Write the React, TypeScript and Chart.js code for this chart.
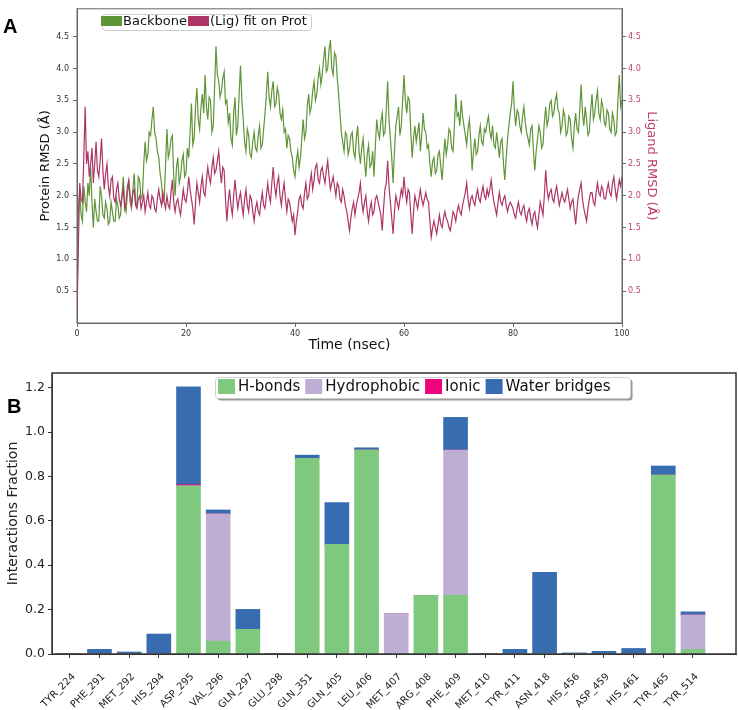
import React, { useEffect, useRef } from 'react';
import { Chart, registerables } from 'chart.js';
Chart.register(...registerables);

const FONT = "'DejaVu Sans', sans-serif";

// ---------- Panel A data (time step 0.25 ns, 0..100 ns) ----------
const TIME_STEP_NS = 0.25;
const backboneRmsd = [
  0.2, 1.8, 2.1, 1.7, 1.6, 2.15, 1.9, 1.75, 2.2, 2.0, 2.45, 1.9, 1.5, 1.95, 1.75, 1.6, 1.6, 2.15, 2.0, 1.7,
  1.65, 1.9, 1.8, 1.55, 1.6, 1.9, 1.75, 1.6, 1.6, 1.95, 1.85, 1.65, 1.7, 2.0, 2.3, 1.85, 1.75, 2.05, 2.2, 1.9,
  1.8, 2.1, 2.35, 1.9, 1.85, 2.3, 2.25, 1.95, 2.0, 2.5, 2.85, 2.55, 2.65, 3.0, 2.95, 3.2, 3.4, 3.0, 2.9, 2.7,
  2.6, 2.35, 2.2, 1.9, 1.95, 2.5, 3.05, 2.6, 2.7, 2.9, 2.95, 2.3, 2.0, 2.45, 2.6, 2.2, 2.3, 2.55, 2.65, 2.3,
  2.35, 2.75, 2.6, 3.0, 3.45, 2.8, 2.9, 3.4, 3.7, 3.2, 3.05, 3.4, 3.6, 3.3, 3.9, 3.4, 3.2, 3.55, 3.5, 3.0,
  3.1, 3.7, 4.35, 3.9, 3.8, 3.55, 3.65, 3.85, 3.95, 3.45, 3.5, 3.15, 3.3, 2.9, 2.8, 3.3, 3.55, 2.95, 3.1, 3.6,
  4.05, 3.5, 3.2, 2.85, 2.7, 3.05, 2.95, 2.65, 2.6, 2.85, 3.0, 2.75, 2.7, 2.95, 3.1, 2.75, 2.8, 3.05, 3.3, 3.6,
  3.95, 3.55, 3.4, 3.65, 3.8, 3.4, 3.45, 3.7, 3.6, 3.3, 3.2, 3.35, 3.0, 3.05, 2.75, 2.95, 2.9, 2.7, 2.6, 2.4,
  2.3, 2.55, 2.7, 2.45, 2.6, 2.9, 3.2, 2.9, 3.0, 3.4, 3.6, 3.3, 3.4, 3.65, 3.8, 3.5, 3.6, 3.85, 4.0, 3.75,
  3.9, 4.15, 4.35, 3.95, 4.0, 4.3, 4.45, 4.0, 3.9, 4.25, 4.2, 3.85, 3.6, 3.3, 3.0, 2.85, 2.7, 3.0, 2.95, 2.65,
  2.75, 2.95, 3.0, 2.7, 2.6, 2.9, 3.1, 2.7, 2.5, 2.75, 2.9, 2.55, 2.3, 2.65, 2.8, 2.45, 2.5, 2.7, 2.3, 2.8,
  3.2, 3.0, 2.9, 3.15, 3.3, 2.95, 3.0, 3.35, 3.8, 3.2, 2.9, 2.6, 2.2, 2.7, 3.1, 3.25, 3.4, 2.95, 3.1, 3.5,
  3.9, 3.5, 3.3, 3.55, 3.5, 3.0, 2.6, 2.9, 3.1, 2.85, 3.0, 3.15, 2.7, 2.95, 3.3, 3.05, 3.0, 2.75, 2.8, 2.5,
  2.3, 2.55, 2.6, 2.35, 2.4, 2.65, 2.7, 2.45, 2.25, 2.6, 2.9, 2.65, 2.8, 3.05, 3.0, 2.75, 2.7, 3.1, 3.6, 3.25,
  3.3, 3.1, 3.5, 3.25, 3.1, 2.95, 2.8, 3.05, 3.2, 2.85, 2.4, 2.7, 2.9, 2.65, 2.7, 2.95, 3.1, 2.85, 2.8, 3.05,
  3.0, 3.15, 3.25, 3.0, 2.9, 3.1, 2.8, 2.75, 3.0, 2.8, 2.6, 2.85, 2.9, 2.5, 2.25, 2.6, 2.9, 3.1, 3.3, 3.45,
  3.8, 3.35, 3.1, 3.35, 3.3, 3.1, 3.0, 3.25, 3.4, 3.15, 3.0, 2.9, 2.8, 3.05, 3.1, 2.7, 2.4, 2.7, 2.9, 3.1,
  3.0, 2.75, 2.8, 3.15, 3.4, 3.1, 3.2, 3.45, 3.5, 3.25, 3.3, 3.5, 3.6, 3.35, 3.3, 3.0, 3.1, 3.35, 3.25, 2.95,
  3.0, 3.25, 3.2, 2.9, 2.75, 3.1, 3.3, 3.05, 3.0, 3.35, 3.75, 3.3, 3.1, 3.4, 3.2, 2.95, 3.0, 3.35, 3.6, 3.2,
  3.3, 3.5, 3.65, 3.3, 3.2, 3.5, 3.4, 3.15, 3.1, 3.35, 3.3, 3.05, 3.0, 3.3, 3.2, 2.95, 3.0, 3.5, 3.9, 3.4,
  3.5,
];
const ligandRmsd = [
  0.1, 1.2, 2.2, 1.95, 1.9, 2.6, 3.4, 2.5, 2.7, 2.3, 2.5, 2.75, 2.2, 2.5, 2.85, 2.4, 2.3, 2.55, 2.9, 2.4,
  2.1, 2.35, 2.5, 2.15, 2.0, 2.25, 2.3, 1.95, 1.9, 2.1, 2.2, 1.95, 1.85, 2.0, 2.1, 1.8, 1.9, 2.15, 2.25, 2.0,
  1.85, 2.05, 2.1, 1.85, 1.8, 1.95, 2.0, 1.8, 1.9, 2.0, 1.75, 1.9, 2.05, 1.85, 1.8, 2.0, 1.95, 1.8, 1.75, 1.95,
  2.1, 1.95, 1.85, 2.05, 1.9, 1.8, 2.0, 1.85, 1.8, 2.05, 2.25, 1.9, 1.75, 1.9, 1.95, 1.8, 1.7, 1.9, 2.1, 1.95,
  1.9, 2.05, 2.3, 2.1, 1.95, 1.8, 1.55, 1.9, 2.2, 2.05, 1.9, 2.15, 2.3, 2.05, 2.0, 2.25, 2.45, 2.3, 2.2, 2.45,
  2.6, 2.35, 2.4, 2.55, 2.7, 2.4, 2.2, 2.45, 2.4, 1.95, 1.6, 1.9, 2.1, 1.85, 1.7, 2.0, 2.25, 2.0, 1.8, 1.95,
  2.05, 1.85, 1.7, 1.95, 2.1, 1.85, 1.75, 2.0, 1.95, 1.75, 1.6, 1.8, 1.9, 1.75, 1.7, 1.9, 2.05, 1.85, 1.8, 2.0,
  2.2, 2.0, 1.9, 2.2, 2.45, 2.15, 2.0, 2.2, 2.3, 2.0, 1.85, 2.05, 2.2, 1.95, 1.75, 1.95, 1.9, 1.75, 1.6, 1.7,
  1.38, 1.6, 1.75, 1.95, 2.0, 1.85, 1.8, 2.05, 2.2, 1.95, 2.0, 2.2, 2.35, 2.1, 2.25, 2.45, 2.5, 2.25, 2.2, 2.4,
  2.45, 2.3, 2.2, 2.4, 2.55, 2.3, 2.1, 2.2, 2.3, 2.15, 2.0, 2.2, 2.15, 1.95, 1.9, 2.1, 2.0, 1.85, 1.75, 1.6,
  1.45, 1.65, 1.8, 1.9, 1.7, 1.85, 1.95, 2.05, 2.2, 1.9, 1.75, 1.9, 2.0, 1.75, 1.6, 1.8, 1.9, 1.7, 1.75, 1.95,
  2.0, 1.9, 1.8, 1.7, 1.45, 1.8, 2.1, 2.2, 2.55, 2.15, 1.9, 1.65, 1.4, 1.75, 2.0, 1.9, 1.8, 1.95, 2.1, 2.0,
  2.3, 2.05, 1.9, 2.1, 2.05, 1.7, 1.4, 1.75, 2.0, 1.9, 1.8, 1.95, 2.1, 1.95, 1.85, 1.95, 2.05, 1.95, 1.9, 1.6,
  1.35, 1.5, 1.6, 1.5, 1.4, 1.55, 1.7, 1.55, 1.5, 1.65, 1.75, 1.65, 1.6, 1.5, 1.45, 1.6, 1.75, 1.7, 1.6, 1.75,
  1.85, 1.75, 1.7, 1.85, 1.95, 2.05, 2.2, 1.95, 1.8, 1.95, 2.0, 1.9, 1.85, 2.0, 2.1, 1.95, 1.9, 2.05, 2.15, 2.0,
  1.95, 2.1, 2.0, 2.1, 2.25, 2.05, 1.9, 1.8, 1.7, 1.9, 2.05, 1.9, 1.85, 1.95, 2.0, 1.85, 1.75, 1.85, 1.9, 1.85,
  1.8, 1.7, 1.65, 1.8, 1.9, 1.75, 1.7, 1.8, 1.85, 1.7, 1.6, 1.75, 1.8, 1.65, 1.55, 1.7, 1.75, 1.6, 1.5, 1.7,
  1.9, 1.8, 1.7, 2.0, 2.4, 2.1, 1.95, 2.05, 2.1, 1.95, 1.9, 2.05, 2.15, 2.0, 1.85, 1.95, 2.05, 1.95, 1.9, 2.0,
  2.1, 1.95, 1.8, 1.9, 1.95, 1.75, 1.55, 1.8, 2.0, 2.1, 2.2, 1.95, 1.8, 1.7, 1.6, 1.8, 1.95, 2.05, 2.05, 1.9,
  1.85, 2.05, 2.2, 2.05, 2.0, 2.15, 2.1, 1.95, 1.95, 2.1, 2.2, 2.05, 2.0, 2.2, 2.3, 2.1, 1.95, 2.1, 2.25, 2.15,
  2.3,
];
const timeTicks = [0, 20, 40, 60, 80, 100];
const rmsdTicks = [0.5, 1.0, 1.5, 2.0, 2.5, 3.0, 3.5, 4.0, 4.5];

// ---------- Panel B data ----------
const residues = [
  'TYR_224', 'PHE_291', 'MET_292', 'HIS_294', 'ASP_295', 'VAL_296', 'GLN_297', 'GLU_298',
  'GLN_351', 'GLN_405', 'LEU_406', 'MET_407', 'ARG_408', 'PHE_409', 'MET_410', 'TYR_411',
  'ASN_418', 'HIS_456', 'ASP_459', 'HIS_461', 'TYR_465', 'TYR_514',
];
const hBonds = [0, 0, 0, 0, 0.758, 0.058, 0.111, 0, 0.881, 0.494, 0.919, 0, 0.264, 0.264, 0, 0, 0.003, 0, 0, 0, 0.806, 0.021];
const hydrophobic = [0, 0, 0, 0, 0, 0.573, 0, 0, 0, 0, 0, 0.18, 0, 0.655, 0, 0, 0, 0, 0, 0, 0, 0.155];
const ionic = [0, 0, 0, 0, 0.005, 0, 0, 0, 0, 0, 0, 0, 0, 0, 0, 0, 0, 0, 0, 0, 0, 0];
const waterBridges = [0.003, 0.021, 0.009, 0.09, 0.441, 0.018, 0.09, 0.003, 0.015, 0.188, 0.01, 0, 0, 0.147, 0, 0.021, 0.365, 0.005, 0.012, 0.025, 0.041, 0.014];
const fractionTicks = [0, 0.2, 0.4, 0.6, 0.8, 1.0, 1.2];

const GREEN = '#5f9437';
const PINK = '#ad3566';
const PINK_TXT = '#c0406f';

function roundRect(ctx: CanvasRenderingContext2D, x: number, y: number, w: number, h: number, r: number) {
  ctx.beginPath();
  ctx.moveTo(x + r, y);
  ctx.lineTo(x + w - r, y);
  ctx.arcTo(x + w, y, x + w, y + r, r);
  ctx.lineTo(x + w, y + h - r);
  ctx.arcTo(x + w, y + h, x + w - r, y + h, r);
  ctx.lineTo(x + r, y + h);
  ctx.arcTo(x, y + h, x, y + h - r, r);
  ctx.lineTo(x, y + r);
  ctx.arcTo(x, y, x + r, y, r);
  ctx.closePath();
}

function framePlugin(color: string, width: number) {
  return {
    id: 'frame',
    afterDatasetsDraw(chart: any) {
      const { ctx, chartArea: a } = chart;
      ctx.save();
      ctx.strokeStyle = color;
      ctx.lineWidth = width;
      ctx.strokeRect(a.left, a.top, a.right - a.left, a.bottom - a.top);
      ctx.restore();
    },
  };
}

function panelLabel(text: string, x: number, y: number) {
  return {
    id: 'panelLabel' + text,
    afterDraw(chart: any) {
      const ctx = chart.ctx;
      ctx.save();
      ctx.font = "bold 20px 'Liberation Sans', Arial, sans-serif";
      ctx.fillStyle = '#000';
      ctx.textBaseline = 'alphabetic';
      ctx.textAlign = 'left';
      ctx.fillText(text, x, y);
      ctx.restore();
    },
  };
}

const legendA = {
  id: 'legendA',
  afterDraw(chart: any) {
    const ctx = chart.ctx;
    ctx.save();
    ctx.font = `13px ${FONT}`;
    roundRect(ctx, 102.5, 14.5, 209, 16, 3);
    ctx.fillStyle = 'rgba(255,255,255,0.9)';
    ctx.fill();
    ctx.strokeStyle = '#cccccc';
    ctx.lineWidth = 1;
    ctx.stroke();
    const items = [
      { label: 'Backbone', color: GREEN },
      { label: '(Lig) fit on Prot', color: PINK },
    ];
    let x = 101;
    ctx.textBaseline = 'middle';
    for (const it of items) {
      ctx.fillStyle = it.color;
      ctx.fillRect(x, 16, 21, 10);
      x += 22;
      ctx.fillStyle = '#111';
      ctx.fillText(it.label, x, 22);
      x += ctx.measureText(it.label).width + 1;
    }
    ctx.restore();
  },
};

const legendB = {
  id: 'legendB',
  afterDraw(chart: any) {
    const ctx = chart.ctx;
    ctx.save();
    ctx.font = `15px ${FONT}`;
    const bx = 215.5, by = 17.5, bw = 415, bh = 21;
    roundRect(ctx, bx + 2, by + 2, bw, bh, 3);
    ctx.fillStyle = '#9a9a9a';
    ctx.fill();
    roundRect(ctx, bx, by, bw, bh, 3);
    ctx.fillStyle = '#ffffff';
    ctx.fill();
    ctx.strokeStyle = '#cfcfcf';
    ctx.lineWidth = 1;
    ctx.stroke();
    const items = [
      { label: 'H-bonds', color: '#7fc97f' },
      { label: 'Hydrophobic', color: '#beaed4' },
      { label: 'Ionic', color: '#f0027f' },
      { label: 'Water bridges', color: '#386cb0' },
    ];
    let x = 218;
    ctx.textBaseline = 'middle';
    for (const it of items) {
      ctx.fillStyle = it.color;
      ctx.fillRect(x, 19, 17, 15);
      x += 20;
      ctx.fillStyle = '#111';
      ctx.fillText(it.label, x, 27);
      x += ctx.measureText(it.label).width + 5;
    }
    ctx.restore();
  },
};

function RmsdChart() {
  const ref = useRef<HTMLCanvasElement | null>(null);
  useEffect(() => {
    if (!ref.current) return;
    const chart = new Chart(ref.current, {
      type: 'line',
      data: {
        datasets: [
          {
            label: 'Backbone',
            data: backboneRmsd.map((v, i) => ({ x: i * TIME_STEP_NS, y: v })),
            borderColor: GREEN,
            borderWidth: 1.2,
            pointRadius: 0,
            yAxisID: 'y',
            order: 2,
          },
          {
            label: '(Lig) fit on Prot',
            data: ligandRmsd.map((v, i) => ({ x: i * TIME_STEP_NS, y: v })),
            borderColor: PINK,
            borderWidth: 1.2,
            pointRadius: 0,
            yAxisID: 'y1',
            order: 1,
          },
        ],
      },
      options: {
        animation: false,
        responsive: false,
        layout: { padding: { top: 2, left: 32, right: 76, bottom: 0 } },
        plugins: { legend: { display: false }, tooltip: { enabled: false } },
        scales: {
          x: {
            type: 'linear',
            min: 0,
            max: 100,
            afterBuildTicks: (s: any) => { s.ticks = timeTicks.map((v) => ({ value: v })); },
            afterFit: (s: any) => { s.height = 37; },
            ticks: { font: { size: 8, family: FONT }, color: '#333', padding: 2, maxRotation: 0, callback: (v: any) => String(v) },
            grid: { drawOnChartArea: false, tickLength: 4, color: '#666' },
            border: { color: '#666' },
            title: { display: true, text: 'Time (nsec)', font: { size: 14, family: FONT }, color: '#111', padding: { top: 0, bottom: 6 } },
          },
          y: {
            position: 'left',
            min: 0,
            max: 4.94,
            afterBuildTicks: (s: any) => { s.ticks = rmsdTicks.map((v) => ({ value: v })); },
            afterFit: (s: any) => { s.width = 45; },
            ticks: { font: { size: 8, family: FONT }, color: '#333', padding: 4, callback: (v: any) => Number(v).toFixed(1) },
            grid: { drawOnChartArea: false, tickLength: 4, color: '#666' },
            border: { color: '#666' },
            title: { display: true, text: 'Protein RMSD (Å)', font: { size: 13, family: FONT }, color: '#111', padding: { top: 6, bottom: 0 } },
          },
          y1: {
            position: 'right',
            min: 0,
            max: 4.94,
            afterBuildTicks: (s: any) => { s.ticks = rmsdTicks.map((v) => ({ value: v })); },
            afterFit: (s: any) => { s.width = 40; },
            ticks: { font: { size: 8, family: FONT }, color: PINK_TXT, padding: 2, callback: (v: any) => Number(v).toFixed(1) },
            grid: { drawOnChartArea: false, tickLength: 4, color: '#666' },
            border: { color: '#666' },
            title: { display: true, text: 'Ligand RMSD (Å)', font: { size: 13, family: FONT }, color: PINK_TXT, padding: { top: 3, bottom: 0 } },
          },
        },
      },
      plugins: [framePlugin('#666', 1), legendA, panelLabel('A', 3, 33)],
    } as any);
    return () => chart.destroy();
  }, []);
  return <canvas ref={ref} width={738} height={360} style={{ display: 'block' }} />;
}

function InteractionChart() {
  const ref = useRef<HTMLCanvasElement | null>(null);
  useEffect(() => {
    if (!ref.current) return;
    const mk = (label: string, vals: number[], color: string) => ({
      label,
      data: vals.map((v, i) => ({ x: i, y: v })),
      backgroundColor: color,
      borderWidth: 0,
      barThickness: 24,
    });
    const chart = new Chart(ref.current, {
      type: 'bar',
      data: {
        datasets: [
          mk('H-bonds', hBonds, '#7fc97f'),
          mk('Hydrophobic', hydrophobic, '#beaed4'),
          mk('Ionic', ionic, '#f0027f'),
          mk('Water bridges', waterBridges, '#386cb0'),
        ],
      },
      options: {
        animation: false,
        responsive: false,
        layout: { padding: { top: 13, left: 0, right: 2, bottom: 0 } },
        plugins: { legend: { display: false }, tooltip: { enabled: false } },
        scales: {
          x: {
            type: 'linear',
            stacked: true,
            offset: false,
            min: -0.6,
            max: 22.45,
            afterBuildTicks: (s: any) => { s.ticks = residues.map((_, i) => ({ value: i })); },
            afterFit: (s: any) => { s.height = 56; },
            ticks: {
              autoSkip: false,
              minRotation: 45,
              maxRotation: 45,
              padding: 13,
              labelOffset: 4,
              font: { size: 10, family: FONT },
              color: '#222',
              callback: (v: any) => residues[Math.round(Number(v))] ?? '',
            },
            grid: { drawOnChartArea: false, offset: false, tickLength: 4, color: '#333' },
            border: { color: '#333' },
          },
          y: {
            stacked: true,
            min: 0,
            max: 1.266,
            afterBuildTicks: (s: any) => { s.ticks = fractionTicks.map((v) => ({ value: v })); },
            afterFit: (s: any) => { s.width = 52; },
            ticks: { font: { size: 12.5, family: FONT }, color: '#222', padding: 3, callback: (v: any) => Number(v).toFixed(1) },
            grid: { drawOnChartArea: false, tickLength: 4, color: '#333' },
            border: { color: '#333' },
            title: { display: true, text: 'Interactions Fraction', font: { size: 14, family: FONT }, color: '#222', padding: { top: 5, bottom: 0 } },
          },
        },
      },
      plugins: [framePlugin('#333', 1.5), legendB, panelLabel('B', 7, 53)],
    } as any);
    return () => chart.destroy();
  }, []);
  return <canvas ref={ref} width={738} height={350} style={{ display: 'block' }} />;
}

export default function App() {
  return (
    <div style={{ position: 'absolute', left: 0, top: 0, width: 738, height: 710, background: '#fff' }}>
      <RmsdChart />
      <InteractionChart />
    </div>
  );
}
